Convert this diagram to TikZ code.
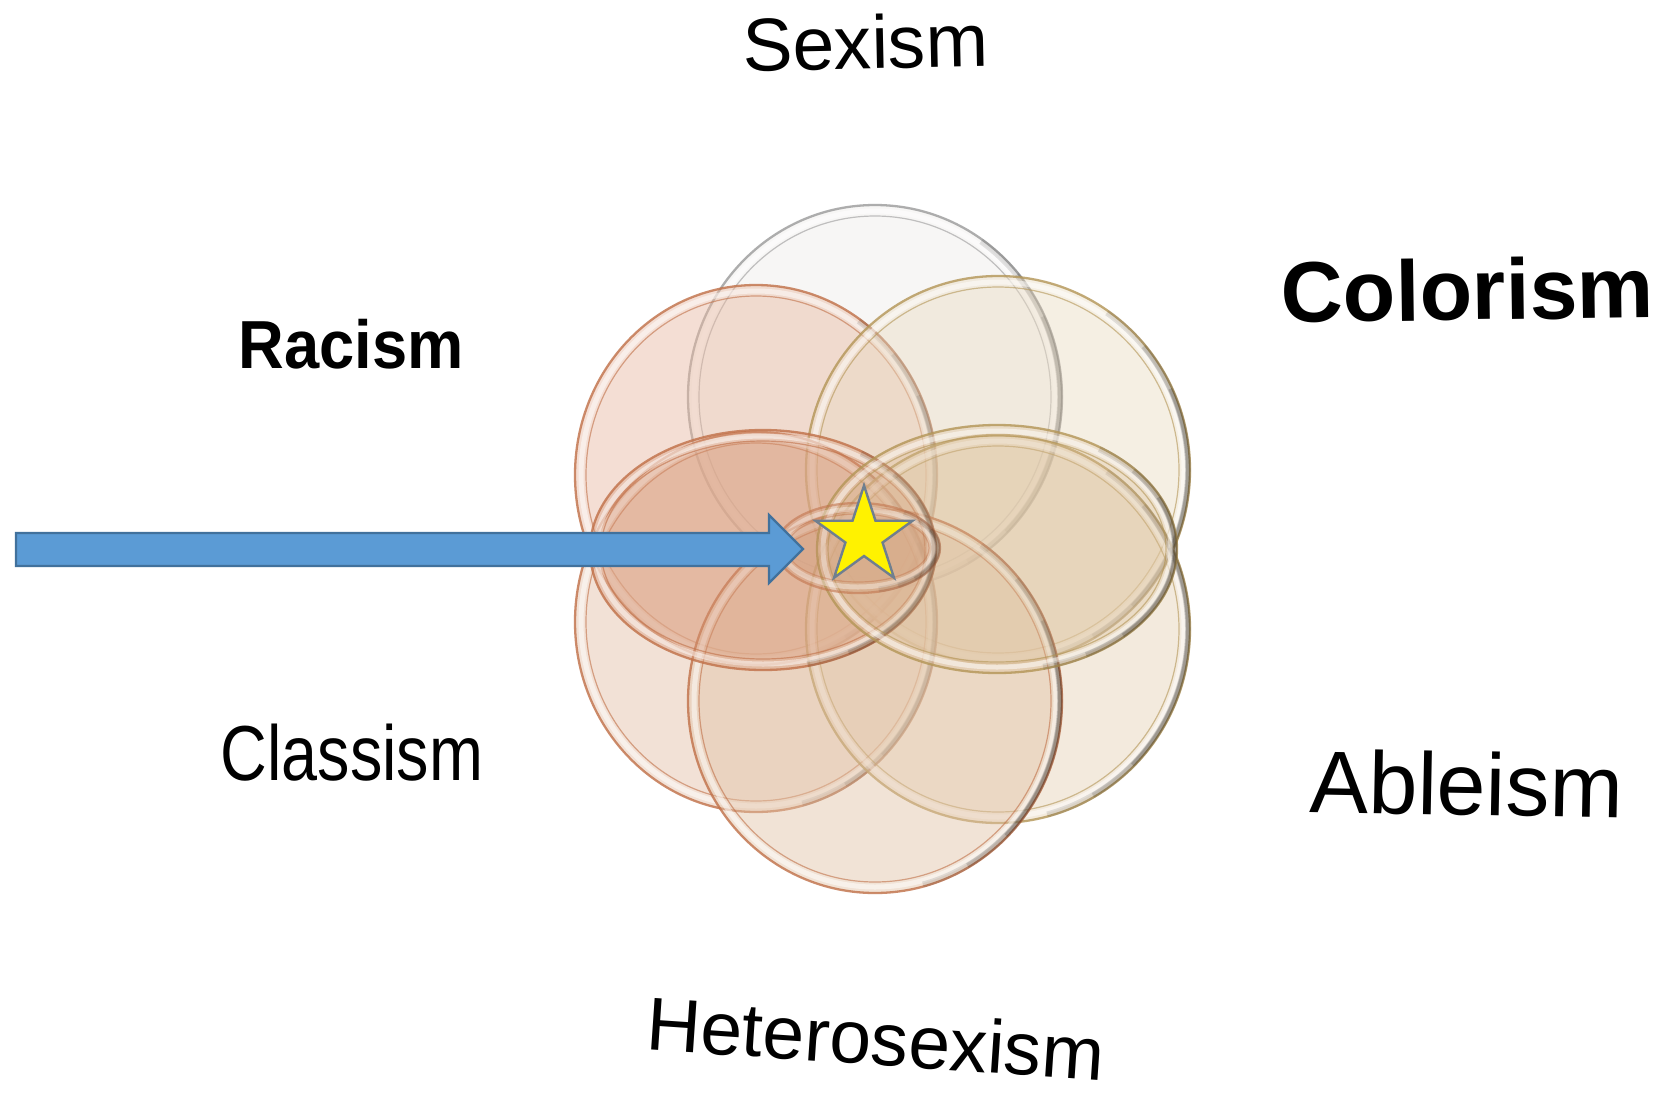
\documentclass[tikz,border=0pt]{standalone}
\usepackage{fontspec}
\setmainfont{Liberation Sans}
\definecolor{arrowfill}{HTML}{5B9BD5}
\definecolor{arrowdraw}{HTML}{41719C}
\definecolor{stargray}{HTML}{6F7F8F}
\definecolor{cTop}{HTML}{EEECEA}
\definecolor{rTop}{HTML}{9A9A9A}
\definecolor{cUL}{HTML}{E8B8A0}
\definecolor{cUR}{HTML}{EBDCC3}
\definecolor{cLL}{HTML}{E4BEA5}
\definecolor{cLR}{HTML}{E6D2B5}
\definecolor{cBot}{HTML}{E2C3A6}
\definecolor{cML}{HTML}{D89878}
\definecolor{cMR}{HTML}{DCC09A}
\definecolor{cSm}{HTML}{C88A66}
\definecolor{rWarm}{HTML}{C07048}
\definecolor{rGold}{HTML}{B39556}
\newcommand\plate[7]{%
 \fill[#5, fill opacity=#7] (#1,#2) ellipse [x radius=#3, y radius=#4];
 \draw[#6, line width=2.3pt, opacity=0.8] (#1,#2) ellipse [x radius=#3, y radius=#4];
 \draw[white, line width=5pt, opacity=0.5] (#1,#2) ellipse [x radius=#3-6, y radius=#4-6];
 \draw[#6, line width=1.2pt, opacity=0.6] (#1,#2) ellipse [x radius=#3-11, y radius=#4-11];
 \foreach \a/\b/\w/\o in {-55/75/6/0.10, -40/60/5/0.13, -25/45/4/0.16}{
   \draw[black, line width=\w pt, opacity=\o] (#1,#2) ++({(#3-2)*cos(\a)},{(#4-2)*sin(\a)})
     arc[start angle=\a, end angle=\b, x radius=#3-2, y radius=#4-2];
 }%
}
\begin{document}
\begin{tikzpicture}[x=1pt,y=-1pt,
  lbl/.style={anchor=base, inner sep=0pt, text=black, text depth=0pt},
  arrowshape/.style={fill=arrowfill, draw=arrowdraw, line width=2.2pt, line join=miter},
  starshape/.style={fill=yellow, draw=stargray, line width=2.4pt, line join=miter}]
\fill[white] (0,0) rectangle (1663,1098);
\useasboundingbox (0,0) rectangle (1663,1098);

% plates
\plate{875}{397}{187}{192}{cTop}{rTop}{0.45}
\plate{756}{475}{181}{190}{cUL}{rWarm}{0.45}
\plate{998}{470}{192}{194}{cUR}{rGold}{0.45}
\plate{756}{622}{181}{190}{cLL}{rWarm}{0.45}
\plate{998}{629}{192}{194}{cLR}{rGold}{0.45}
\plate{875}{701}{187}{192}{cBot}{rWarm}{0.45}
\plate{763}{550}{173}{120}{cML}{rWarm}{0.4}
\plate{997}{549}{180}{124}{cMR}{rGold}{0.35}
\begin{scope}[opacity=0.7, transparency group]
\plate{858}{548}{82}{45}{cSm}{rWarm}{0.3}
\end{scope}

% arrow
\coordinate (arrowtail) at (16,549.5);
\coordinate (arrowtip) at (803,549);
\draw[arrowshape] (16,533) -- (769,533) -- (769,515) -- (arrowtip) -- (769,583) -- (769,566) -- (16,566) -- cycle;

% star
\coordinate (star) at (864,536.5);
\draw[starshape, shift={(star)}] (270:51) -- (306:19.5) -- (342:51) -- (18:19.5) -- (54:51) -- (90:19.5)
  -- (126:51) -- (162:19.5) -- (198:51) -- (234:19.5) -- cycle;

% labels
\node[lbl, font=\fontsize{75}{75}\selectfont, rotate=1.2] (sexism) at (866,69) {Sexism};
\node[lbl, font=\fontsize{68}{68}\selectfont\bfseries, xscale=0.93] (racism) at (351,368) {Racism};
\node[lbl, font=\fontsize{86}{86}\selectfont\bfseries, rotate=0.8] (colorism) at (1468,320) {Colorism};
\node[lbl, font=\fontsize{78}{78}\selectfont, xscale=0.83] (classism) at (352,780) {Classism};
\node[lbl, font=\fontsize{88}{88}\selectfont, rotate=-1.1] (ableism) at (1466,815) {Ableism};
\node[lbl, font=\fontsize{75}{75}\selectfont, rotate=-3.9] (hetero) at (874,1065) {Heterosexism};
\end{tikzpicture}
\end{document}
